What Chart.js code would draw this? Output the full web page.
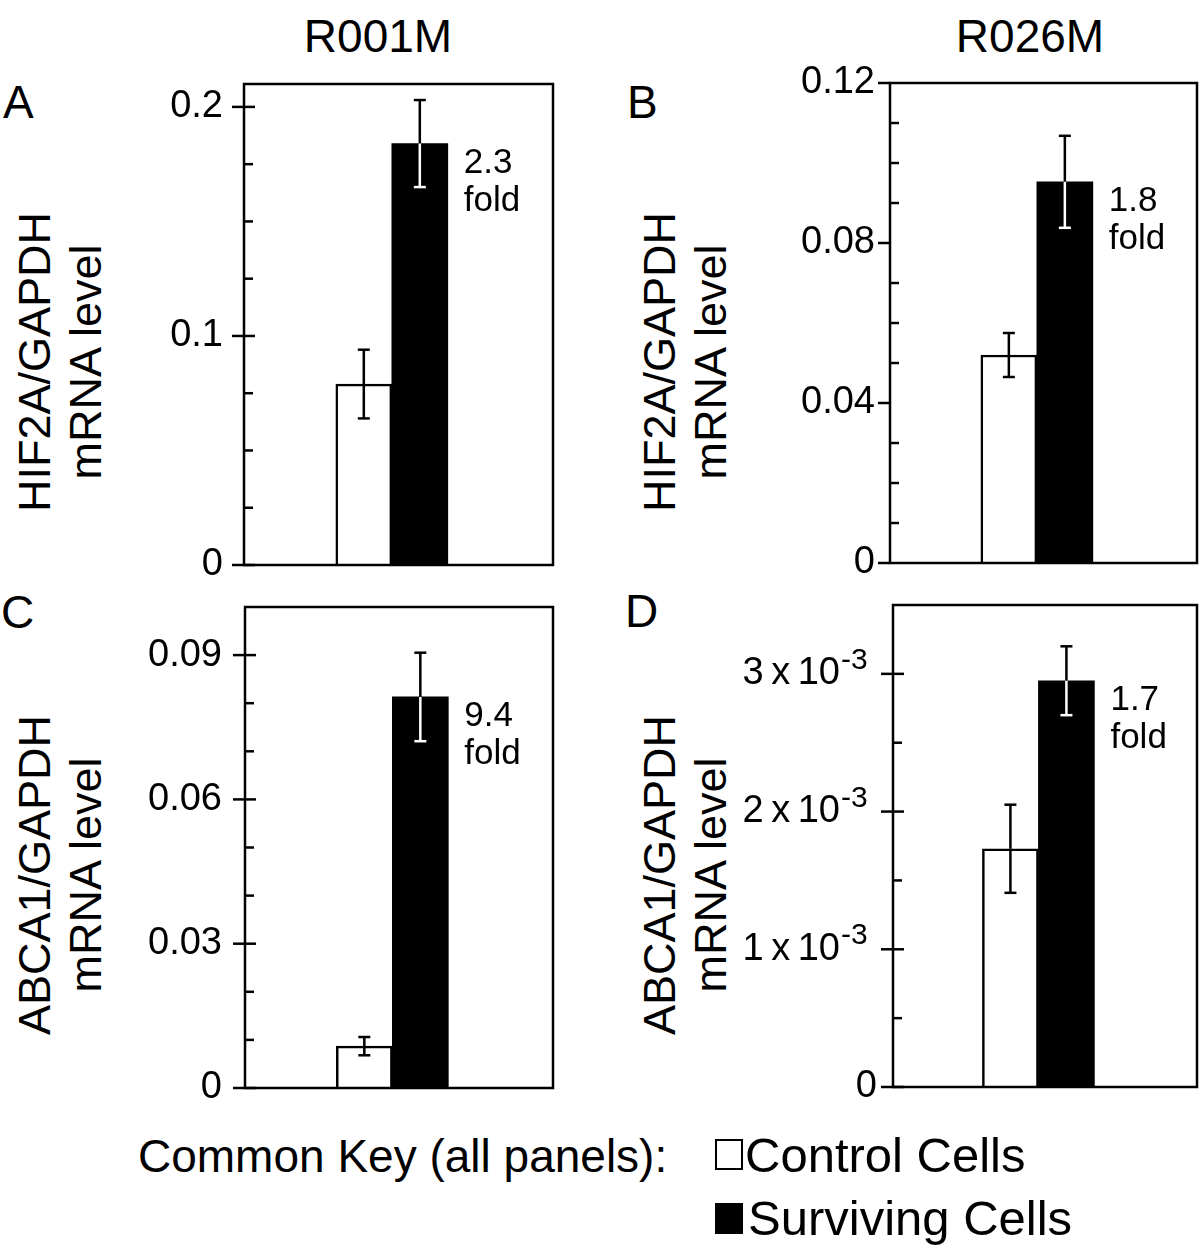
<!DOCTYPE html>
<html>
<head>
<meta charset="utf-8">
<script src="https://cdn.jsdelivr.net/npm/chart.js@4.4.1/dist/chart.umd.min.js"></script>
<style>
  body { margin: 0; background: #fff; }
  #page { position: relative; width: 1200px; height: 1248px; overflow: hidden; background: #fff; }
  canvas { position: absolute; }
  .txt { position: absolute; white-space: nowrap; font-family: 'Liberation Sans', Arial, Helvetica, sans-serif; color: #000; line-height: 1; }
  .ytitle { position: absolute; width: 400px; height: 102px; line-height: 51px; font-size: 45px; text-align: center;
            font-family: 'Liberation Sans', Arial, Helvetica, sans-serif; transform: rotate(-90deg); white-space: nowrap; }
  .swatch { position: absolute; width: 28px; height: 31px; box-sizing: border-box; border: 2px solid #000; }
</style>
</head>
<body>
<div id="page">
  <div class="txt" style="font-size:46px; left:278px; top:13px; width:200px; text-align:center;">R001M</div>
  <div class="txt" style="font-size:46px; left:930px; top:13px; width:200px; text-align:center;">R026M</div>

  <div class="txt" style="font-size:46px; left:3px; top:79px;">A</div>
  <div class="txt" style="font-size:46px; left:627px; top:79px;">B</div>
  <div class="txt" style="font-size:46px; left:1px; top:589px;">C</div>
  <div class="txt" style="font-size:46px; left:625px; top:588px;">D</div>

  <div class="ytitle" style="left:-140px; top:311px;">HIF2A/GAPDH<br>mRNA level</div>
  <div class="ytitle" style="left:485px; top:311px;">HIF2A/GAPDH<br>mRNA level</div>
  <div class="ytitle" style="left:-140px; top:824px;">ABCA1/GAPDH<br>mRNA level</div>
  <div class="ytitle" style="left:485px; top:824px;">ABCA1/GAPDH<br>mRNA level</div>

  <canvas id="panelA" width="480" height="530" style="left:120px; top:60px;"></canvas>
  <canvas id="panelB" width="440" height="530" style="left:760px; top:60px;"></canvas>
  <canvas id="panelC" width="480" height="520" style="left:120px; top:590px;"></canvas>
  <canvas id="panelD" width="460" height="520" style="left:740px; top:590px;"></canvas>

  <div class="txt" style="font-size:46px; left:138px; top:1133px;">Common Key (all panels):</div>
  <div class="swatch" style="left:715px; top:1139px; background:#fff;"></div>
  <div class="txt" style="font-size:49px; left:745px; top:1131px;">Control Cells</div>
  <div class="swatch" style="left:715px; top:1203px; background:#000;"></div>
  <div class="txt" style="font-size:49px; left:748px; top:1194px;">Surviving Cells</div>
</div>

<script>
// Values, one entry per panel (A, B, C, D)
const panelIds = ['A', 'B', 'C', 'D'];
const controlMeans = [0.079, 0.052, 0.0087, 0.00173];
const controlErrors = [0.015, 0.0055, 0.0019, 0.00032];
const survivingMeans = [0.184, 0.0953, 0.0813, 0.00295];
const survivingErrors = [0.019, 0.0115, 0.0092, 0.00025];
const foldChanges = ['2.3', '1.8', '9.4', '1.7'];

// y axes
const yMax = [0.21, 0.12, 0.1, 0.0035];
const majorTicks = [
  [0, 0.1, 0.2],
  [0, 0.04, 0.08, 0.12],
  [0, 0.03, 0.06, 0.09],
  [0, 0.001, 0.002, 0.003]
];
const minorTicks = [
  [0.025, 0.05, 0.075, 0.125, 0.15, 0.175],
  [0.01, 0.02, 0.03, 0.05, 0.06, 0.07, 0.09, 0.1, 0.11],
  [0.01, 0.02, 0.04, 0.05, 0.07, 0.08],
  [0.0005, 0.0015, 0.0025]
];
const tickLabels = [
  ['0', '0.1', '0.2'],
  ['0', '0.04', '0.08', '0.12'],
  ['0', '0.03', '0.06', '0.09'],
  ['0', '1\u2009x\u200910', '2\u2009x\u200910', '3\u2009x\u200910']
];
const tickExponents = [
  ['', '', ''],
  ['', '', '', ''],
  ['', '', '', ''],
  ['', '-3', '-3', '-3']
];

// where the pair of bars sits on the (hidden) 0..1 x axis
const groupCenter = 0.474;

// layout of each panel inside its canvas (pixels)
const layouts = [
  { axisWidth: 124, pad: { left: 0, top: 24, right: 47, bottom: 25 }, labelPad: 21, majorIn: 11 },
  { axisWidth: 130, pad: { left: 0, top: 23, right: 3, bottom: 27 }, labelPad: 15, majorIn: 0 },
  { axisWidth: 125, pad: { left: 0, top: 17, right: 47, bottom: 22 }, labelPad: 23, majorIn: 11 },
  { axisWidth: 153, pad: { left: 0, top: 15, right: 3, bottom: 23 }, labelPad: 16, majorIn: 11 }
];

const FONT = "'Liberation Sans', Arial, Helvetica, sans-serif";
Chart.defaults.font.family = FONT;
Chart.defaults.color = '#000';

const near = (a, b) => Math.abs(a - b) < 1e-9;

const drawErrorBar = (ctx, x, yHi, yLo, barTop, insideColor) => {
  const cap = 6;
  const seg = (y1, y2, color) => {
    if (y2 <= y1) return;
    ctx.strokeStyle = color;
    ctx.beginPath();
    ctx.moveTo(x, y1);
    ctx.lineTo(x, y2);
    ctx.stroke();
  };
  const capLine = (y) => {
    ctx.strokeStyle = y < barTop ? '#000' : insideColor;
    ctx.beginPath();
    ctx.moveTo(x - cap, y);
    ctx.lineTo(x + cap, y);
    ctx.stroke();
  };
  ctx.lineWidth = 2.5;
  seg(yHi, Math.min(yLo, barTop), '#000');
  seg(Math.max(yHi, barTop), yLo, insideColor);
  capLine(yHi);
  capLine(yLo);
};

// error bars, fold labels, frame, tick marks and the 10^-3 labels
const panelPlugin = {
  id: 'panelExtras',
  afterDatasetsDraw(chart) {
    const i = chart.options.panelIndex;
    const lay = layouts[i];
    const ctx = chart.ctx;
    const yScale = chart.scales.y;
    const area = chart.chartArea;
    ctx.save();

    chart.data.datasets.forEach((ds, d) => {
      const bar = chart.getDatasetMeta(d).data[0];
      const mean = ds.data[0].y;
      const err = ds.errors[0];
      drawErrorBar(ctx, bar.x, yScale.getPixelForValue(mean + err),
        yScale.getPixelForValue(mean - err), bar.y, ds.errorInsideColor);
    });

    // fold-change note beside the surviving-cells bar
    const sBar = chart.getDatasetMeta(1).data[0];
    ctx.fillStyle = '#000';
    ctx.font = '35px ' + FONT;
    ctx.textAlign = 'left';
    ctx.textBaseline = 'alphabetic';
    const tx = sBar.x + sBar.width / 2 + 16;
    ctx.fillText(foldChanges[i], tx, sBar.y + 29);
    ctx.fillText('fold', tx, sBar.y + 67);

    // frame
    ctx.strokeStyle = '#000';
    ctx.lineWidth = 2.5;
    ctx.strokeRect(area.left, area.top, area.right - area.left, area.bottom - area.top);

    // tick marks
    yScale.ticks.forEach((t) => {
      const y = yScale.getPixelForValue(t.value);
      const major = majorTicks[i].some((m) => near(m, t.value));
      ctx.beginPath();
      if (major) {
        ctx.moveTo(area.left - 12, y);
        ctx.lineTo(area.left + lay.majorIn, y);
      } else {
        ctx.moveTo(area.left, y);
        ctx.lineTo(area.left + 9, y);
      }
      ctx.stroke();
    });

    // labels with a superscript exponent
    majorTicks[i].forEach((m, k) => {
      const exp = tickExponents[i][k];
      if (!exp) return;
      const y = yScale.getPixelForValue(m);
      ctx.textAlign = 'right';
      ctx.textBaseline = 'middle';
      ctx.font = '38px ' + FONT;
      ctx.fillText(tickLabels[i][k], area.left - 53, y);
      ctx.textAlign = 'left';
      ctx.textBaseline = 'alphabetic';
      ctx.font = '30px ' + FONT;
      ctx.fillText(exp, area.left - 52, y - 5);
    });

    ctx.restore();
  }
};

const makePanel = (i) => {
  const lay = layouts[i];
  new Chart(document.getElementById('panel' + panelIds[i]), {
    type: 'bar',
    data: {
      datasets: [
        {
          label: 'Control Cells',
          data: [{ x: groupCenter, y: controlMeans[i] }],
          errors: [controlErrors[i]],
          errorInsideColor: '#000',
          backgroundColor: '#fff',
          borderColor: '#000',
          borderWidth: 2.5,
          barThickness: 56
        },
        {
          label: 'Surviving Cells',
          data: [{ x: groupCenter, y: survivingMeans[i] }],
          errors: [survivingErrors[i]],
          errorInsideColor: '#fff',
          backgroundColor: '#000',
          borderColor: '#000',
          borderWidth: 0,
          barThickness: 56
        }
      ]
    },
    options: {
      panelIndex: i,
      responsive: false,
      animation: false,
      devicePixelRatio: 1,
      layout: { padding: lay.pad },
      plugins: { legend: { display: false }, tooltip: { enabled: false } },
      scales: {
        x: { type: 'linear', min: 0, max: 1, display: false },
        y: {
          min: 0,
          max: yMax[i],
          grid: { display: false, drawTicks: false },
          border: { display: false },
          afterBuildTicks: (scale) => {
            scale.ticks = majorTicks[i].concat(minorTicks[i])
              .sort((a, b) => a - b)
              .map((v) => ({ value: v }));
          },
          afterFit: (scale) => {
            scale.width = lay.axisWidth;
            scale.paddingTop = 0;
            scale.paddingBottom = 0;
          },
          ticks: {
            autoSkip: false,
            padding: lay.labelPad,
            color: '#000',
            font: { size: 38 },
            callback: (value) => {
              const k = majorTicks[i].findIndex((m) => near(m, value));
              if (k < 0 || tickExponents[i][k]) return '';
              return tickLabels[i][k];
            }
          }
        }
      }
    },
    plugins: [panelPlugin]
  });
};

panelIds.forEach((_, i) => makePanel(i));
</script>
</body>
</html>
